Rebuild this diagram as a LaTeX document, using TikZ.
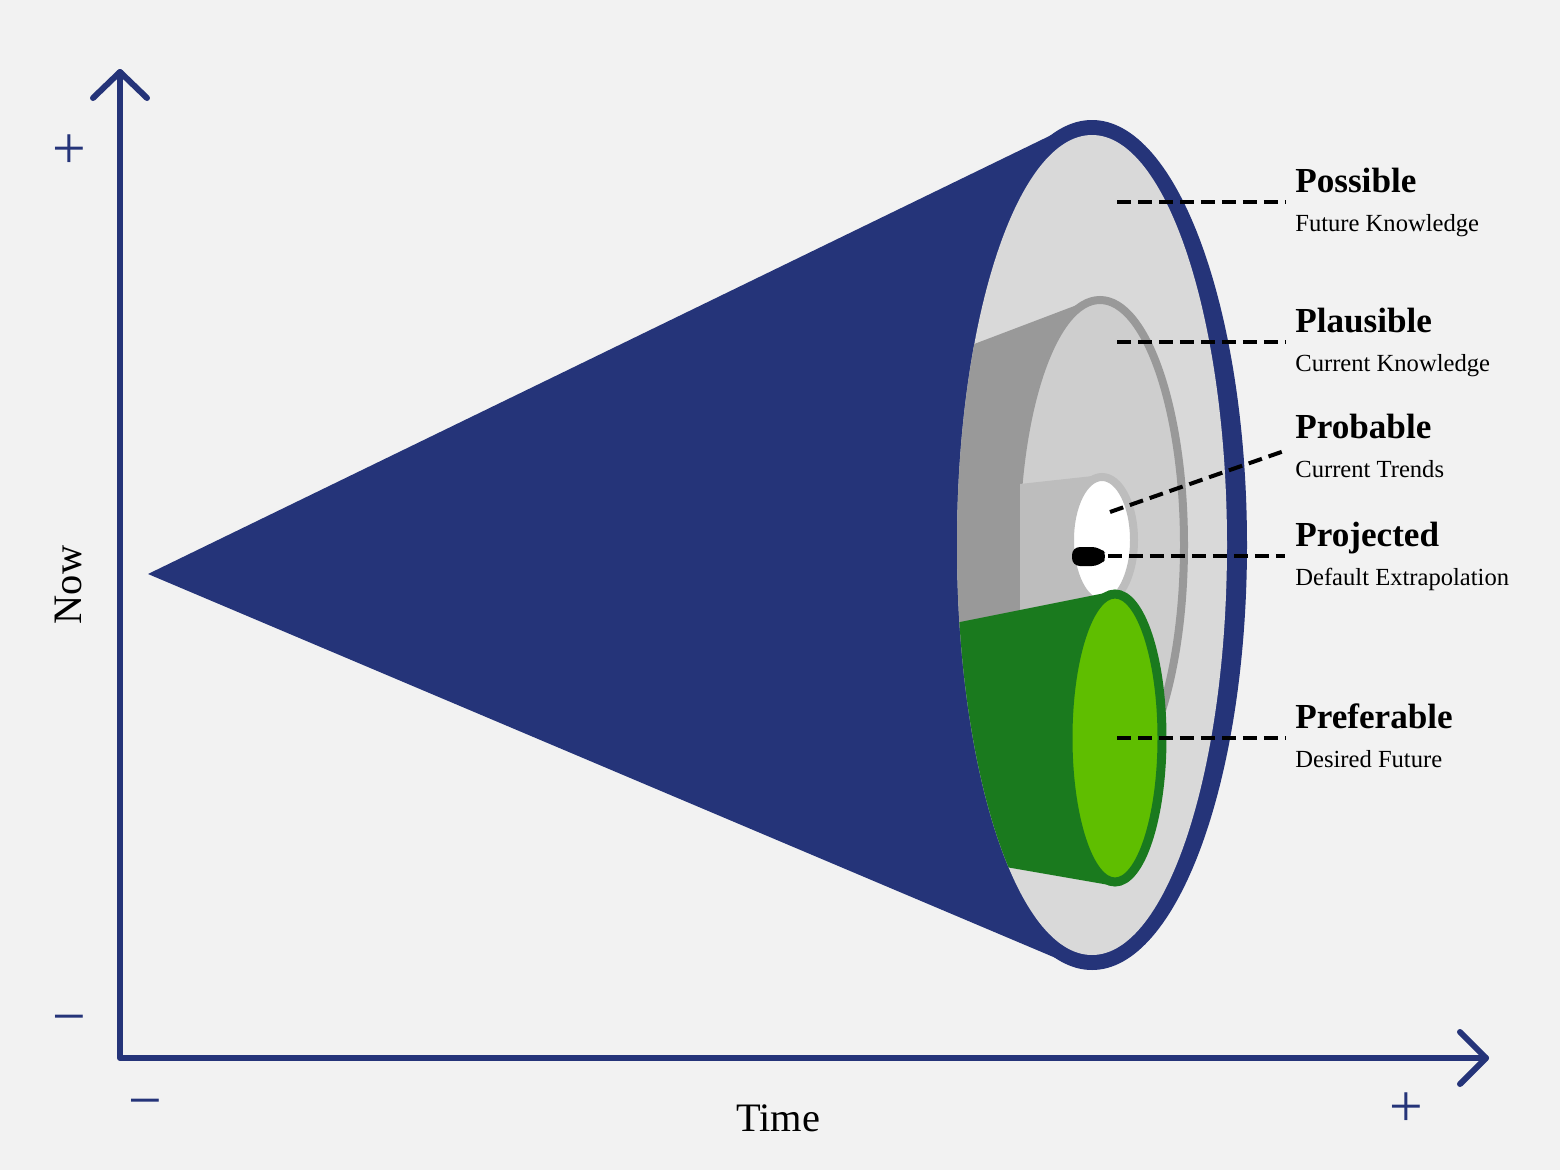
\documentclass[tikz,border=0pt]{standalone}
\usepackage{fontspec}
\setmainfont{Liberation Serif}
\begin{document}
\begin{tikzpicture}[x=0.02cm,y=-0.02cm,
  navy/.style={draw=axis,line width=0.12cm,line cap=round,line join=round},
  lead/.style={draw=black,line width=0.08cm,dash pattern=on 0.28cm off 0.14cm},
  ttl/.style={anchor=base west,inner sep=0pt,font=\fontsize{20}{24}\selectfont\bfseries},
  sub/.style={anchor=base west,inner sep=0pt,font=\fontsize{14}{17}\selectfont}]
\definecolor{axis}{HTML}{253479}
\definecolor{bg}{HTML}{F2F2F2}
\definecolor{lg}{HTML}{D9D9D9}
\definecolor{dg}{HTML}{999999}
\definecolor{mg}{HTML}{BDBDBD}
\definecolor{gd}{HTML}{1A7A1E}
\definecolor{gl}{HTML}{5FBE00}
\fill[bg] (0,0) rectangle (1560,1170);
% axes
\coordinate (o) at (120,1058);
\coordinate (yt) at (120,72);
\coordinate (xt) at (1486,1058);
\draw[navy] (yt) -- (o) -- (xt);
\draw[navy] (93,98) -- (yt) -- (147,98);
\draw[navy] (1460,1032) -- (xt) -- (1460,1084);
\node[text=axis,font=\fontsize{34}{34}\selectfont] (pl1) at (69,152) {+};
\node[text=axis,font=\fontsize{34}{34}\selectfont] (mi1) at (69,1026) {\textminus};
\node[text=axis,font=\fontsize{34}{34}\selectfont] (mi2) at (145,1110) {\textminus};
\node[text=axis,font=\fontsize{34}{34}\selectfont] (pl2) at (1406,1110) {+};
\node[font=\fontsize{23}{23}\selectfont,rotate=90] (now) at (68,585) {Now};
\node[font=\fontsize{23}{23}\selectfont] (time) at (778,1118) {Time};
% cone
\fill[axis] (1092,545) ellipse [x radius=155,y radius=425];
\fill[axis] (148,574) -- (1070,126) -- (1070,964) -- cycle;
\fill[lg] (1092,545) ellipse [x radius=135,y radius=410];
\begin{scope}
\clip (1092,545) ellipse [x radius=135,y radius=410];
\fill[dg] (940,357) -- (1098,297) -- (1098,650) -- (940,625) -- cycle;
\end{scope}
\filldraw[fill=lg!95!black,draw=dg,line width=0.16cm] (1100,545) ellipse [x radius=84,y radius=245];
\fill[mg] (1020,484) -- (1102,475) -- (1102,610) -- (1020,610) -- cycle;
\filldraw[fill=white,draw=mg,line width=0.16cm] (1102,540) ellipse [x radius=32,y radius=63];
\fill[black,rounded corners=0.16cm] (1072,547) -- (1100,547) -- (1108,556) -- (1100,566) -- (1072,566) -- cycle;
\begin{scope}
\clip (1092,545) ellipse [x radius=135,y radius=410];
\fill[gd] (940,626) -- (1115,591) -- (1115,886) -- (1000,866) -- cycle;
\end{scope}
\filldraw[fill=gl,draw=gd,line width=0.18cm] (1115,738) ellipse [x radius=47,y radius=144];
% labels
\node[ttl] (t1) at (1295,192) {Possible};
\node[sub] (s1) at (1295,231) {Future Knowledge};
\node[ttl] (t2) at (1295,332) {Plausible};
\node[sub] (s2) at (1295,371) {Current Knowledge};
\node[ttl] (t3) at (1295,438) {Probable};
\node[sub] (s3) at (1295,477) {Current Trends};
\node[ttl] (t4) at (1295,546) {Projected};
\node[sub] (s4) at (1295,585) {Default Extrapolation};
\node[ttl] (t5) at (1295,728) {Preferable};
\node[sub] (s5) at (1295,767) {Desired Future};
\coordinate (a1) at (1117,202); \coordinate (b1) at (1285,202);
\coordinate (a2) at (1117,342); \coordinate (b2) at (1285,342);
\coordinate (a3) at (1110,512); \coordinate (b3) at (1287,450);
\coordinate (a4) at (1108,556); \coordinate (b4) at (1285,556);
\coordinate (a5) at (1117,738); \coordinate (b5) at (1285,738);
\foreach \i in {1,...,5} \draw[lead] (a\i) -- (b\i);
\end{tikzpicture}
\end{document}
